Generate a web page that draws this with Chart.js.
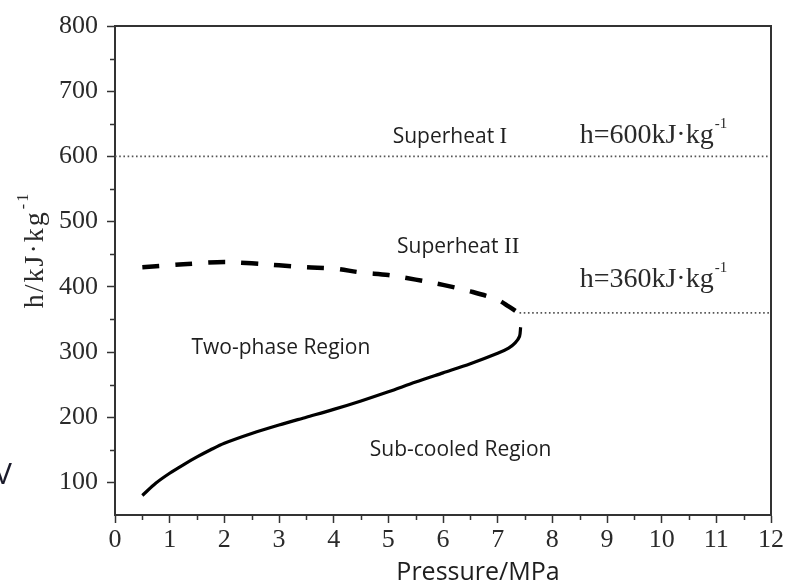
<!DOCTYPE html>
<html>
<head>
<meta charset="utf-8">
<script src="https://cdn.jsdelivr.net/npm/chart.js@4.4.1/dist/chart.umd.min.js"></script>
<style>
  html, body { margin: 0; padding: 0; background: #ffffff; }
  #wrap { position: relative; width: 787px; height: 584px; }
  canvas { display: block; }
</style>
</head>
<body>
<div id="wrap"><canvas id="c" width="787" height="584"></canvas></div>
<script>
// ---- data ----
const liquidPressure = [0.5, 0.75, 1.0, 1.25, 1.5, 1.75, 2.0, 2.5, 3.0, 3.5, 4.0, 4.5, 5.0, 5.5, 6.0, 6.5, 7.0, 7.2, 7.32, 7.4, 7.42];
const liquidEnthalpy = [80, 99, 114, 127, 139, 150, 160, 175, 188, 200, 212, 225, 239, 254, 268, 282, 298, 306, 314, 324, 338];

const vaporPressure = [0.5, 1.0, 1.5, 2.0, 2.5, 3.0, 3.5, 4.0, 4.5, 5.0, 5.5, 6.0, 6.5, 7.0, 7.2, 7.38];
const vaporEnthalpy = [430, 433, 436, 438, 436, 433, 430, 428, 422, 418, 411, 403, 393, 380, 370, 360];

const line600Pressure = [0, 12];
const line600Enthalpy = [600, 600];
const line360Pressure = [7.4, 12];
const line360Enthalpy = [360, 360];

const xTickLabels = [0, 1, 2, 3, 4, 5, 6, 7, 8, 9, 10, 11, 12];
const yTickLabels = [100, 200, 300, 400, 500, 600, 700, 800];

const xAxisTitle = 'Pressure/MPa';
const yAxisTitle = 'h/kJ·kg';
const unitExponent = '-1';

// region labels: [text, numeral, pressure, enthalpy(baseline)]
const regionLabels = [
  ['Superheat ', 'I', 5.08, 621],
  ['Superheat ', 'II', 5.16, 452],
  ['Two-phase Region', '', 1.40, 297],
  ['Sub-cooled Region', '', 4.66, 140]
];
// enthalpy line labels: [text, pressure, enthalpy(baseline)]
const lineLabels = [
  ['h=600kJ·kg', 8.5, 620],
  ['h=360kJ·kg', 8.5, 399]
];

function pts(xs, ys) { return xs.map((x, i) => ({ x: x, y: ys[i] })); }

const AXIS = '#333333';
const SERIF = '"Liberation Serif", "DejaVu Serif", serif';
const SANS = '"Open Sans", "Noto Sans", sans-serif';

const decor = {
  id: 'decor',
  afterDraw(chart) {
    const ctx = chart.ctx;
    const a = chart.chartArea;
    const xs = chart.scales.x, ys = chart.scales.y;
    ctx.save();
    // top & right frame
    ctx.strokeStyle = AXIS;
    ctx.lineWidth = 2;
    ctx.beginPath();
    ctx.moveTo(a.left, a.top);
    ctx.lineTo(a.right, a.top);
    ctx.lineTo(a.right, a.bottom);
    ctx.stroke();
    // minor ticks
    ctx.lineWidth = 1.5;
    ctx.beginPath();
    ys.ticks.forEach(t => {
      if (t.value % 100 !== 0 && t.value !== 50) {
        const p = Math.round(ys.getPixelForValue(t.value)) + 0.5;
        ctx.moveTo(a.left - 5, p); ctx.lineTo(a.left, p);
      }
    });
    xs.ticks.forEach(t => {
      if (t.value % 1 !== 0) {
        const p = Math.round(xs.getPixelForValue(t.value)) + 0.5;
        ctx.moveTo(p, a.bottom); ctx.lineTo(p, a.bottom + 5);
      }
    });
    ctx.stroke();

    ctx.fillStyle = '#1e1e1e';
    ctx.textBaseline = 'alphabetic';
    ctx.textAlign = 'left';
    // region labels
    regionLabels.forEach(r => {
      const px = xs.getPixelForValue(r[2]);
      const py = ys.getPixelForValue(r[3]);
      ctx.font = '21px ' + SANS;
      ctx.fillText(r[0], px, py);
      if (r[1]) {
        const w = ctx.measureText(r[0]).width;
        ctx.font = '23px ' + SERIF;
        ctx.fillText(r[1], px + w, py);
      }
    });
    // line labels
    lineLabels.forEach(r => {
      const px = xs.getPixelForValue(r[1]);
      const py = ys.getPixelForValue(r[2]);
      ctx.font = '28px ' + SERIF;
      ctx.fillStyle = '#2a2a2a';
      ctx.fillText(r[0], px, py);
      const w = ctx.measureText(r[0]).width;
      ctx.font = '15px ' + SERIF;
      ctx.fillText(unitExponent, px + w + 1, py - 15);
    });
    // y axis title (rotated)
    ctx.save();
    ctx.translate(43, 250);
    ctx.rotate(-Math.PI / 2);
    ctx.letterSpacing = '2px';
    ctx.font = '28px ' + SERIF;
    const w1 = ctx.measureText(yAxisTitle).width;
    ctx.font = '16px ' + SERIF;
    const w2 = ctx.measureText(unitExponent).width;
    const start = -(w1 + w2 + 1) / 2;
    ctx.fillStyle = '#2a2a2a';
    ctx.font = '28px ' + SERIF;
    ctx.fillText(yAxisTitle, start, 0);
    ctx.font = '16px ' + SERIF;
    ctx.fillText(unitExponent, start + w1 + 1, -15);
    ctx.restore();
    // x axis title
    ctx.font = '25px ' + SANS;
    ctx.fillStyle = '#1e1e1e';
    ctx.textAlign = 'center';
    ctx.fillText(xAxisTitle, 478, 580);
    // stray glyph at the left edge of the reference crop
    ctx.textAlign = 'left';
    ctx.font = '30px ' + SANS;
    ctx.fillStyle = '#1a1a2a';
    ctx.fillText('V', -6, 484);
    ctx.restore();
  }
};

new Chart(document.getElementById('c'), {
  type: 'scatter',
  data: {
    datasets: [
      {
        data: pts(liquidPressure, liquidEnthalpy),
        showLine: true, borderColor: '#000', borderWidth: 3.2,
        pointRadius: 0, tension: 0.3, fill: false
      },
      {
        data: pts(vaporPressure, vaporEnthalpy),
        showLine: true, borderColor: '#000', borderWidth: 4.5,
        borderDash: [17, 16], pointRadius: 0, tension: 0.35, fill: false
      },
      {
        data: pts(line600Pressure, line600Enthalpy),
        showLine: true, borderColor: '#555', borderWidth: 1.6,
        borderDash: [1.6, 2.6], pointRadius: 0, fill: false
      },
      {
        data: pts(line360Pressure, line360Enthalpy),
        showLine: true, borderColor: '#555', borderWidth: 1.6,
        borderDash: [1.6, 2.6], pointRadius: 0, fill: false
      }
    ]
  },
  options: {
    responsive: false,
    animation: false,
    devicePixelRatio: 1,
    layout: { padding: { top: 26, right: 16, left: 0, bottom: 0 } },
    plugins: { legend: { display: false }, tooltip: { enabled: false } },
    scales: {
      x: {
        type: 'linear', min: 0, max: 12,
        afterFit(s) { s.height = 69; },
        border: { display: true, color: AXIS, width: 2 },
        grid: {
          drawOnChartArea: false, drawTicks: true, tickLength: 8,
          tickWidth: 1.5,
          tickColor: (c) => (c.tick && c.tick.value % 1 === 0) ? AXIS : 'rgba(0,0,0,0)'
        },
        ticks: {
          stepSize: 0.5, autoSkip: false, maxRotation: 0, padding: 2,
          color: '#2a2a2a', font: { family: SERIF, size: 26 },
          callback: (v) => xTickLabels.includes(v) ? String(v) : ''
        }
      },
      y: {
        type: 'linear', min: 50, max: 800,
        afterFit(s) { s.width = 115; },
        border: { display: true, color: AXIS, width: 2 },
        grid: {
          drawOnChartArea: false, drawTicks: true, tickLength: 8,
          tickWidth: 1.5,
          tickColor: (c) => (c.tick && c.tick.value % 100 === 0) ? AXIS : 'rgba(0,0,0,0)'
        },
        ticks: {
          stepSize: 50, autoSkip: false, padding: 9,
          color: '#2a2a2a', font: { family: SERIF, size: 26 },
          callback: (v) => yTickLabels.includes(v) ? String(v) : ''
        }
      }
    }
  },
  plugins: [decor]
});
</script>
</body>
</html>
